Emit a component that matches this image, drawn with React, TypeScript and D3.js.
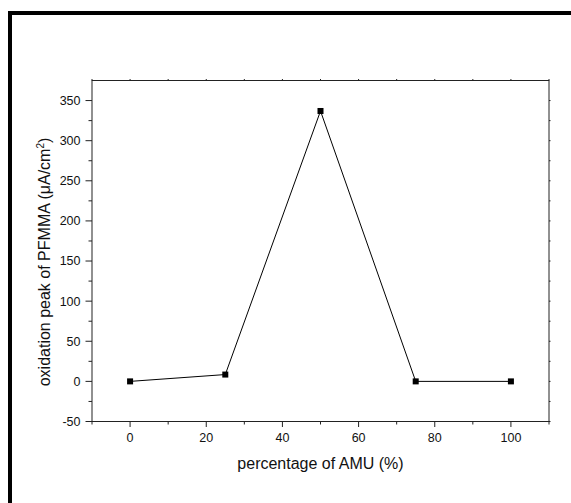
import React from "react";
import * as d3 from "d3";

const amuPercent = [0, 25, 50, 75, 100];
const oxidationPeak = [0, 8.5, 337, 0, 0];
const xMajorTicks = [0, 20, 40, 60, 80, 100];
const xMinorTicks = [-10, 10, 30, 50, 70, 90, 110];
const yMajorTicks = [-50, 0, 50, 100, 150, 200, 250, 300, 350];
const yMinorTicks = [-25, 25, 75, 125, 175, 225, 275, 325];

const W = 571;
const H = 503;
const plot = { left: 92, right: 549, top: 80.5, bottom: 421.5 };
const FONT = "'Liberation Sans', Arial, sans-serif";

export default function App() {
  const x = d3.scaleLinear().domain([-10, 110]).range([plot.left, plot.right]);
  const y = d3.scaleLinear().domain([-50, 375]).range([plot.bottom, plot.top]);
  const pts = amuPercent.map((v, i) => [x(v), y(oxidationPeak[i])] as [number, number]);
  const line = d3.line()(pts) || "";
  const axisColor = "#222";
  return (
    <svg width={W} height={H} style={{ position: "absolute", left: 0, top: 0, background: "#fff" }}>
      <rect x={0} y={0} width={W} height={H} fill="#fff" />
      {/* outer frame (top and left only) */}
      <line x1={8} y1={13} x2={W} y2={13} stroke="#000" strokeWidth={4} />
      <line x1={10} y1={11} x2={10} y2={H} stroke="#000" strokeWidth={4} />

      {/* plot box */}
      <rect x={plot.left} y={plot.top} width={plot.right - plot.left} height={plot.bottom - plot.top}
        fill="none" stroke={axisColor} strokeWidth={1} />

      {/* bottom axis ticks */}
      {xMajorTicks.map((t) => (
        <g key={"xb" + t}>
          <line x1={x(t)} x2={x(t)} y1={plot.bottom} y2={plot.bottom + 5.5} stroke={axisColor} />
          <line x1={x(t)} x2={x(t)} y1={plot.top} y2={plot.top - 1.5} stroke={axisColor} />
          <text x={x(t)} y={442} textAnchor="middle" fontFamily={FONT} fontSize={12.5} fill="#111">{t}</text>
        </g>
      ))}
      {xMinorTicks.map((t) => (
        <g key={"xm" + t}>
          <line x1={x(t)} x2={x(t)} y1={plot.bottom} y2={plot.bottom + 3} stroke={axisColor} />
          <line x1={x(t)} x2={x(t)} y1={plot.top} y2={plot.top - 1.5} stroke={axisColor} />
        </g>
      ))}

      {/* left axis ticks */}
      {yMajorTicks.map((t) => (
        <g key={"yl" + t}>
          <line x1={plot.left - 6.5} x2={plot.left} y1={y(t)} y2={y(t)} stroke={axisColor} />
          <line x1={plot.right} x2={plot.right + 1.5} y1={y(t)} y2={y(t)} stroke={axisColor} />
          <text x={80.5} y={y(t) + 4.4} textAnchor="end" fontFamily={FONT} fontSize={12.5} fill="#111">{t}</text>
        </g>
      ))}
      {yMinorTicks.map((t) => (
        <g key={"ym" + t}>
          <line x1={plot.left - 3.5} x2={plot.left} y1={y(t)} y2={y(t)} stroke={axisColor} />
          <line x1={plot.right} x2={plot.right + 1.5} y1={y(t)} y2={y(t)} stroke={axisColor} />
        </g>
      ))}

      {/* data */}
      <path d={line} fill="none" stroke="#000" strokeWidth={1} />
      {pts.map(([px, py], i) => (
        <rect key={"p" + i} x={px - 3} y={py - 3} width={6} height={6} fill="#000" />
      ))}

      {/* axis titles */}
      <text x={320.5} y={469} textAnchor="middle" fontFamily={FONT} fontSize={16} fill="#111">
        percentage of AMU (%)
      </text>
      <text transform={`translate(50,262) rotate(-90)`} textAnchor="middle" fontFamily={FONT} fontSize={16} fill="#111">
        oxidation peak of PFMMA (μA/cm<tspan dy={-6} fontSize={10}>2</tspan><tspan dy={6}>)</tspan>
      </text>
    </svg>
  );
}
